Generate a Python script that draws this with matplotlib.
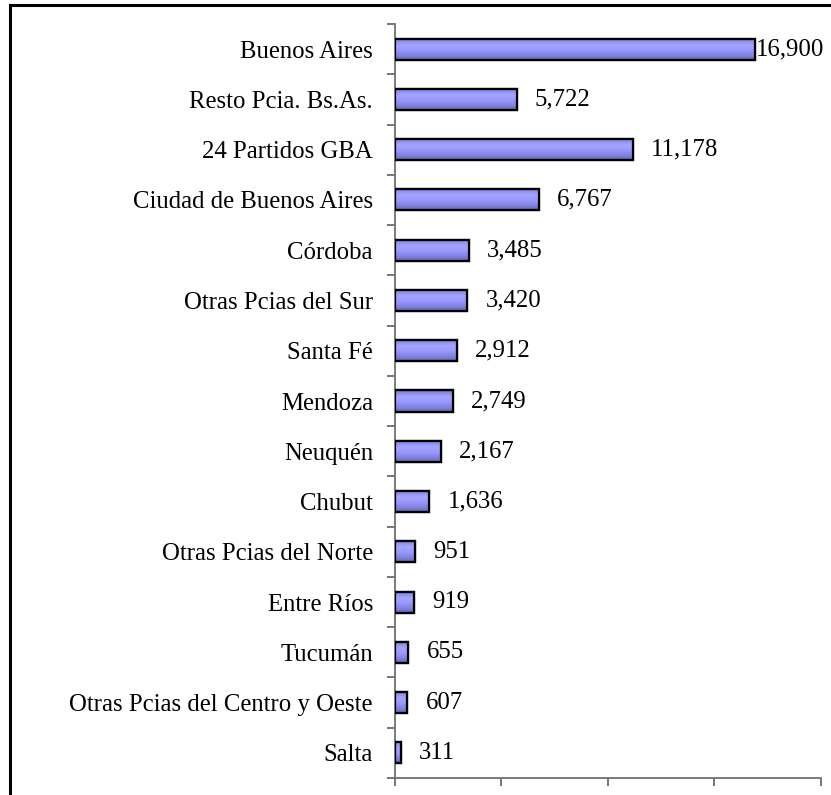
import numpy as np
import matplotlib
matplotlib.use("Agg")
import matplotlib.pyplot as plt
from matplotlib.patches import Rectangle
from matplotlib.colors import LinearSegmentedColormap

categories = ["Buenos Aires", "Resto Pcia. Bs.As.", "24 Partidos GBA",
              "Ciudad de Buenos Aires", "Córdoba", "Otras Pcias del Sur",
              "Santa Fé", "Mendoza", "Neuquén", "Chubut",
              "Otras Pcias del Norte", "Entre Ríos", "Tucumán",
              "Otras Pcias del Centro y Oeste", "Salta"]
values = [16900, 5722, 11178, 6767, 3485, 3420, 2912, 2749, 2167, 1636,
          951, 919, 655, 607, 311]
value_labels = ["16,900", "5,722", "11,178", "6,767", "3,485", "3,420",
                "2,912", "2,749", "2,167", "1,636", "951", "919", "655",
                "607", "311"]

plt.rcParams['font.family'] = ['Liberation Serif', 'DejaVu Serif']
FS = 17.8

W, H = 831, 795
fig = plt.figure(figsize=(W / 100, H / 100), dpi=100)
ax_l, ax_r, ax_t, ax_b = 394.5, 821, 24, 778
ax = fig.add_axes([ax_l / W, (H - ax_b) / H, (ax_r - ax_l) / W, (ax_b - ax_t) / H])

n = len(categories)
ypos = np.arange(n)
bars = ax.barh(ypos, values, height=0.42, color='#9999FF', edgecolor='black',
               linewidth=1.6, zorder=3)

cmap = LinearSegmentedColormap.from_list(
    'cyl', [(0.0, '#5E5EA8'), (0.12, '#8C8CEE'), (0.3, '#A4A4FF'),
            (0.55, '#9999FF'), (0.85, '#7C7CD8'), (1.0, '#5E5EA8')])
grad = np.linspace(0, 1, 64).reshape(-1, 1)
for b in bars:
    x0, y0 = b.get_x(), b.get_y()
    w, h = b.get_width(), b.get_height()
    im = ax.imshow(grad, cmap=cmap, aspect='auto',
                   extent=(x0, x0 + w, y0 + h, y0), zorder=3.5,
                   interpolation='bilinear')
    im.set_clip_path(b)
    edge = Rectangle((x0, y0), w, h, fill=False, edgecolor='black',
                     linewidth=1.6, zorder=4)
    ax.add_patch(edge)

ax.set_xlim(0, 20000)
ax.set_ylim(n - 0.5, -0.5)

# value labels
for i, (v, lab) in enumerate(zip(values, value_labels)):
    off = 1 if v > 15000 else 13
    ax.annotate(lab, (v, i), xytext=(off, 0), textcoords='offset points',
                ha='left', va='center', fontsize=FS, zorder=5,
                annotation_clip=False)

# axes styling
for s in ['top', 'right']:
    ax.spines[s].set_visible(False)
for s in ['left', 'bottom']:
    ax.spines[s].set_color('#707070')
    ax.spines[s].set_linewidth(1.3)

ax.set_yticks(np.arange(-0.5, n, 1.0))
ax.set_yticklabels([])
ax.set_yticks(ypos, minor=True)
ax.set_yticklabels(categories, minor=True, fontsize=FS)
ax.tick_params(axis='y', which='major', direction='out', length=6,
               color='#505050', width=1.1)
ax.tick_params(axis='y', which='minor', length=0, pad=15.5)

ax.set_xticks(np.arange(0, 20001, 5000))
ax.set_xticklabels([])
ax.tick_params(axis='x', direction='out', length=6, color='#505050', width=1.1)

# chart-area border
fig.patches.append(Rectangle((10 / W, -0.1), 1.1, (H - 5) / H + 0.1,
                             transform=fig.transFigure, fill=False,
                             edgecolor='black', linewidth=2.2))

fig.savefig('out.png', dpi=100, facecolor='white')
